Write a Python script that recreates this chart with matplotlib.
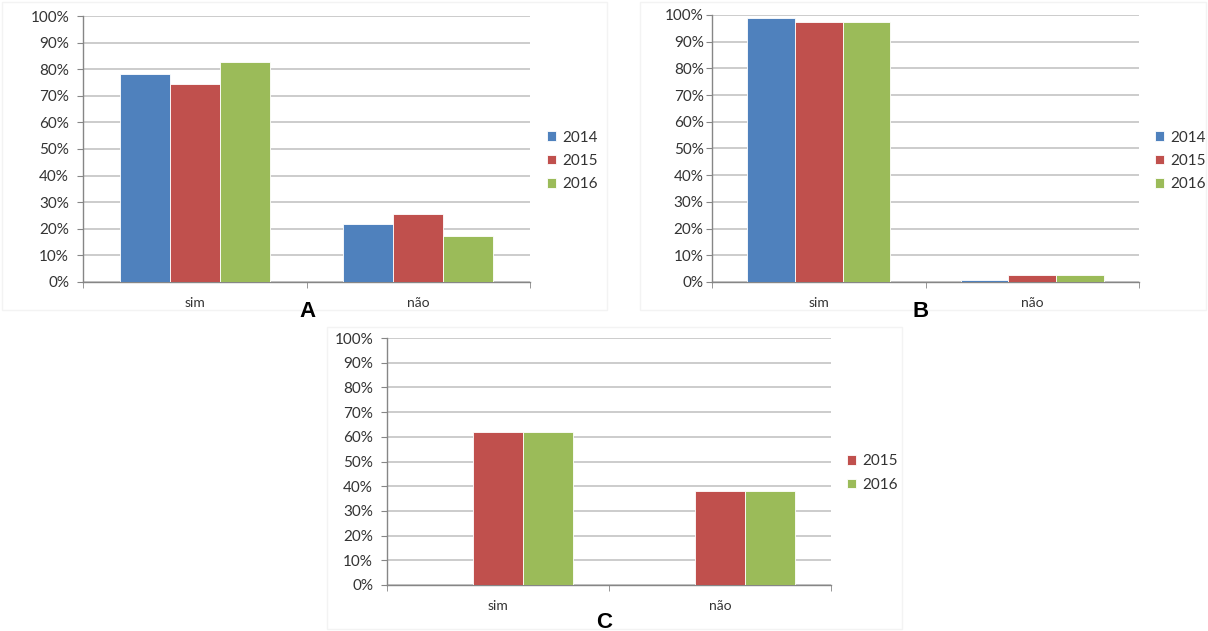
import numpy as np
import matplotlib.pyplot as plt
from matplotlib.patches import Rectangle

plt.rcParams['font.family'] = ['Lato', 'DejaVu Sans']

# Dados
categorias = ['sim', 'não']
anos = ['2014', '2015', '2016']
cores = ['#4F81BD', '#C0504D', '#9BBB59']

# Painel A
a_2014 = [78.2, 21.8]
a_2015 = [74.6, 25.4]
a_2016 = [82.7, 17.3]
# Painel B
b_2014 = [99.0, 0.8]
b_2015 = [97.2, 2.8]
b_2016 = [97.2, 2.8]
# Painel C (sem 2014)
c_2015 = [62.0, 38.0]
c_2016 = [62.0, 38.0]

W, H = 1208, 631
fig = plt.figure(figsize=(W / 100, H / 100), dpi=100)


def caixa(x0, x1, y0, y1):
    # converte pixels para fração da figura
    return [x0 / W, 1 - y1 / H, (x1 - x0) / W, (y1 - y0) / H]


# contornos leves das áreas dos gráficos
for (x0, y0, x1, y1) in [(2, 2, 607, 310), (640, 2, 1206, 310), (327, 327, 902, 629)]:
    fig.patches.append(Rectangle((x0 / W, 1 - y1 / H), (x1 - x0) / W, (y1 - y0) / H,
                                 transform=fig.transFigure, facecolor='none',
                                 edgecolor='#f3f3f3', lw=1, zorder=-1))


def grafico(pos, series, ypad, leg_xy, letra, letra_xy):
    ax = fig.add_axes(caixa(*pos))
    ax.patch.set_alpha(0)
    x = np.arange(len(categorias))
    larg = 0.224
    handles = []
    for i, ano in enumerate(anos):
        vals = series.get(ano)
        if vals is None:
            continue
        b = ax.bar(x + (i - 1) * larg, vals, larg, color=cores[i],
                   edgecolor='white', linewidth=0.6, zorder=3, label=ano)
        handles.append(b)
    ax.set_xlim(-0.5, 1.5)
    ax.set_ylim(0, 100)
    ax.set_yticks(np.arange(0, 101, 10))
    ax.set_yticklabels([f'{v}%' for v in range(0, 101, 10)])
    ax.set_xticks(x)
    ax.set_xticklabels(categorias)
    ax.set_xticks([-0.5, 0.5, 1.5], minor=True)
    ax.tick_params(axis='x', which='major', length=0, pad=11, labelsize=10, colors='#333333')
    ax.tick_params(axis='x', which='minor', length=4, color='#868686', direction='out')
    ax.tick_params(axis='y', length=4, color='#868686', pad=ypad, labelsize=11,
                   labelcolor='#333333')
    ax.yaxis.grid(True, color='#bfbfbf', lw=1.1, zorder=0)
    ax.set_axisbelow(True)
    for s in ['top', 'right']:
        ax.spines[s].set_visible(False)
    for s in ['left', 'bottom']:
        ax.spines[s].set_color('#868686')
        ax.spines[s].set_linewidth(1)
    ax.legend(handles=handles, loc='center left',
              bbox_to_anchor=(leg_xy[0] / W, 1 - leg_xy[1] / H),
              bbox_transform=fig.transFigure, frameon=False, fontsize=11,
              handlelength=0.6, handleheight=0.6, handletextpad=0.4,
              labelspacing=0.62, borderpad=0, borderaxespad=0,
              labelcolor='#333333')
    fig.text(letra_xy[0] / W, 1 - letra_xy[1] / H, letra, fontsize=16,
             fontweight='bold', ha='center', va='center',
             family=['Liberation Sans', 'DejaVu Sans'])
    return ax


grafico((83, 530, 16, 282), {'2014': a_2014, '2015': a_2015, '2016': a_2016},
        6, (547, 161), 'A', (307, 312))
grafico((712, 1139, 15, 282), {'2014': b_2014, '2015': b_2015, '2016': b_2016},
        2, (1155, 161), 'B', (921, 312))
grafico((387, 831, 338, 585), {'2015': c_2015, '2016': c_2016},
        6, (847, 473), 'C', (604, 622))

fig.savefig('out.png', dpi=100)
